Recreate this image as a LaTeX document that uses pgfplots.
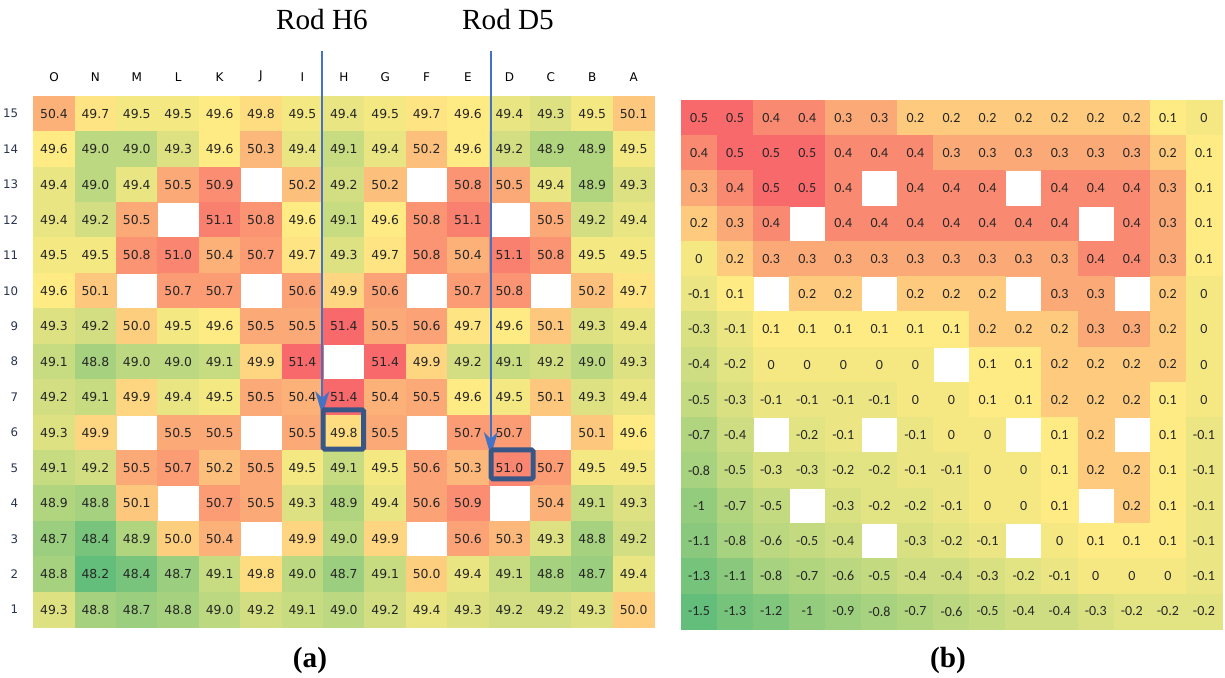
\documentclass[border=0pt]{standalone}
\usepackage{pgfplots}
\usepackage{pgfplotstable}
\pgfplotsset{compat=1.18}
\usepackage{fontspec}
\setmainfont{Liberation Serif}
\newfontfamily\cellfont{DejaVu Sans}
\newfontfamily\cellfontb{Carlito}
\usetikzlibrary{arrows.meta}

\definecolor{arrowblue}{RGB}{68,114,196}
\definecolor{boxblue}{RGB}{56,87,135}
\definecolor{rowblue}{RGB}{40,52,80}

% (a) measured values, rows 15..1, columns O..A
\pgfplotstableread{
row c0 c1 c2 c3 c4 c5 c6 c7 c8 c9 c10 c11 c12 c13 c14
15 50.4 49.7 49.5 49.5 49.6 49.8 49.5 49.4 49.5 49.7 49.6 49.4 49.3 49.5 50.1
14 49.6 49.0 49.0 49.3 49.6 50.3 49.4 49.1 49.4 50.2 49.6 49.2 48.9 48.9 49.5
13 49.4 49.0 49.4 50.5 50.9 nan 50.2 49.2 50.2 nan 50.8 50.5 49.4 48.9 49.3
12 49.4 49.2 50.5 nan 51.1 50.8 49.6 49.1 49.6 50.8 51.1 nan 50.5 49.2 49.4
11 49.5 49.5 50.8 51.0 50.4 50.7 49.7 49.3 49.7 50.8 50.4 51.1 50.8 49.5 49.5
10 49.6 50.1 nan 50.7 50.7 nan 50.6 49.9 50.6 nan 50.7 50.8 nan 50.2 49.7
9 49.3 49.2 50.0 49.5 49.6 50.5 50.5 51.4 50.5 50.6 49.7 49.6 50.1 49.3 49.4
8 49.1 48.8 49.0 49.0 49.1 49.9 51.4 nan 51.4 49.9 49.2 49.1 49.2 49.0 49.3
7 49.2 49.1 49.9 49.4 49.5 50.5 50.4 51.4 50.4 50.5 49.6 49.5 50.1 49.3 49.4
6 49.3 49.9 nan 50.5 50.5 nan 50.5 49.8 50.5 nan 50.7 50.7 nan 50.1 49.6
5 49.1 49.2 50.5 50.7 50.2 50.5 49.5 49.1 49.5 50.6 50.3 51.0 50.7 49.5 49.5
4 48.9 48.8 50.1 nan 50.7 50.5 49.3 48.9 49.4 50.6 50.9 nan 50.4 49.1 49.3
3 48.7 48.4 48.9 50.0 50.4 nan 49.9 49.0 49.9 nan 50.6 50.3 49.3 48.8 49.2
2 48.8 48.2 48.4 48.7 49.1 49.8 49.0 48.7 49.1 50.0 49.4 49.1 48.8 48.7 49.4
1 49.3 48.8 48.7 48.8 49.0 49.2 49.1 49.0 49.2 49.4 49.3 49.2 49.2 49.3 50.0
}\tabL

% (b) differences
\pgfplotstableread{
row c0 c1 c2 c3 c4 c5 c6 c7 c8 c9 c10 c11 c12 c13 c14
15 0.5 0.5 0.4 0.4 0.3 0.3 0.2 0.2 0.2 0.2 0.2 0.2 0.2 0.1 0
14 0.4 0.5 0.5 0.5 0.4 0.4 0.4 0.3 0.3 0.3 0.3 0.3 0.3 0.2 0.1
13 0.3 0.4 0.5 0.5 0.4 nan 0.4 0.4 0.4 nan 0.4 0.4 0.4 0.3 0.1
12 0.2 0.3 0.4 nan 0.4 0.4 0.4 0.4 0.4 0.4 0.4 nan 0.4 0.3 0.1
11 0 0.2 0.3 0.3 0.3 0.3 0.3 0.3 0.3 0.3 0.3 0.4 0.4 0.3 0.1
10 -0.1 0.1 nan 0.2 0.2 nan 0.2 0.2 0.2 nan 0.3 0.3 nan 0.2 0
9 -0.3 -0.1 0.1 0.1 0.1 0.1 0.1 0.1 0.2 0.2 0.2 0.3 0.3 0.2 0
8 -0.4 -0.2 0 0 0 0 0 nan 0.1 0.1 0.2 0.2 0.2 0.2 0
7 -0.5 -0.3 -0.1 -0.1 -0.1 -0.1 0 0 0.1 0.1 0.2 0.2 0.2 0.1 0
6 -0.7 -0.4 nan -0.2 -0.1 nan -0.1 0 0 nan 0.1 0.2 nan 0.1 -0.1
5 -0.8 -0.5 -0.3 -0.3 -0.2 -0.2 -0.1 -0.1 0 0 0.1 0.2 0.2 0.1 -0.1
4 -1 -0.7 -0.5 nan -0.3 -0.2 -0.2 -0.1 0 0 0.1 nan 0.2 0.1 -0.1
3 -1.1 -0.8 -0.6 -0.5 -0.4 nan -0.3 -0.2 -0.1 nan 0 0.1 0.1 0.1 -0.1
2 -1.3 -1.1 -0.8 -0.7 -0.6 -0.5 -0.4 -0.4 -0.3 -0.2 -0.1 0 0 0 -0.1
1 -1.5 -1.3 -1.2 -1 -0.9 -0.8 -0.7 -0.6 -0.5 -0.4 -0.4 -0.3 -0.2 -0.2 -0.2
}\tabR

\pgfdeclareplotmark{cellL}{\pgfpathrectangle{\pgfpoint{-10.35pt}{-8.855pt}}{\pgfpoint{20.7pt}{17.71pt}}\pgfusepathqfillstroke}
\pgfdeclareplotmark{cellR}{\pgfpathrectangle{\pgfpoint{-9.0167pt}{-8.8167pt}}{\pgfpoint{18.033pt}{17.633pt}}\pgfusepathqfillstroke}

\begin{document}
\begin{tikzpicture}
\useasboundingbox (0,0) rectangle (612.5pt,338.5pt);

\begin{axis}[
  at={(16.65pt,24.85pt)}, anchor=south west,
  x=20.7pt, y=17.71pt,
  xmin=-0.5, xmax=14.5, ymin=0.5, ymax=15.5,
  axis line style={draw=none},
  major tick length=0pt,
  xtick={0,...,14}, xticklabels={O,N,M,L,K,J,I,H,G,F,E,D,C,B,A},
  xticklabel pos=upper,
  ytick={1,...,15}, yticklabels={1,2,3,4,5,6,7,8,9,10,11,12,13,14,15},
  xticklabel style={font=\cellfont\fontsize{6}{7}\selectfont, yshift=3.5pt},
  yticklabel style={font=\cellfont\fontsize{5.9}{7}\selectfont, text=rowblue, xshift=-4pt},
  colormap={mapL}{rgb255(0pt)=(99,190,123); rgb255(14pt)=(255,235,132); rgb255(32pt)=(248,105,107)},
  point meta min=48.2, point meta max=51.4,
  clip=false,
]
\pgfplotsinvokeforeach{0,...,14}{
  \addplot[scatter, only marks, mark=cellL, point meta=explicit,
    scatter/use mapped color={draw=mapped color, fill=mapped color},
    mark options={line width=0.2pt}]
    table[x expr=#1, y expr={\thisrow{c#1}*0+\thisrow{row}}, meta=c#1] {\tabL};
}
\pgfplotsinvokeforeach{0,...,14}{
  \addplot[draw=none, mark=none, nodes near coords, nodes near coords align={center},
    point meta=explicit symbolic,
    every node near coord/.append style={font=\cellfont\fontsize{6.2}{7}\selectfont, text=black!85, inner sep=0pt}]
    table[x expr=#1, y expr={\thisrow{c#1}*0+\thisrow{row}}, meta=c#1] {\tabL};
}
\coordinate (h6top) at (axis cs:6.48,16.78);
\coordinate (h6tip) at (axis cs:6.48,6.49);
\coordinate (d5top) at (axis cs:10.55,16.78);
\coordinate (d5tip) at (axis cs:10.55,5.34);
\coordinate (h6a) at (axis cs:6.5,5.53);
\coordinate (h6b) at (axis cs:7.48,6.64);
\coordinate (d5a) at (axis cs:10.56,4.69);
\coordinate (d5b) at (axis cs:11.57,5.51);
\end{axis}

\draw[arrowblue, line width=1pt, -{Stealth[length=12pt,width=7pt,inset=3.5pt]}] (h6top) -- (h6tip);
\draw[arrowblue, line width=1pt, -{Stealth[length=12pt,width=7pt,inset=3.5pt]}] (d5top) -- (d5tip);
\draw[boxblue, line width=2.5pt, rounded corners=0.8pt] (h6a) rectangle (h6b);
\draw[boxblue, line width=2.5pt, rounded corners=0.8pt] (d5a) rectangle (d5b);

\begin{axis}[
  at={(340.5pt,24pt)}, anchor=south west,
  x=18.033pt, y=17.633pt,
  xmin=-0.5, xmax=14.5, ymin=0.5, ymax=15.5,
  hide axis,
  colormap={mapR}{rgb255(0pt)=(99,190,123); rgb255(16pt)=(255,235,132); rgb255(20pt)=(248,105,107)},
  point meta min=-1.5, point meta max=0.5,
  clip=false,
]
\pgfplotsinvokeforeach{0,...,14}{
  \addplot[scatter, only marks, mark=cellR, point meta=explicit,
    scatter/use mapped color={draw=mapped color, fill=mapped color},
    mark options={line width=0.2pt}]
    table[x expr=#1, y expr={\thisrow{c#1}*0+\thisrow{row}}, meta=c#1] {\tabR};
}
\pgfplotsinvokeforeach{0,...,14}{
  \addplot[draw=none, mark=none, nodes near coords, nodes near coords align={center},
    point meta=explicit symbolic,
    every node near coord/.append style={font=\cellfontb\fontsize{7}{8}\selectfont, text=black!85, inner sep=0pt}]
    table[x expr=#1, y expr={\thisrow{c#1}*0+\thisrow{row}}, meta=c#1] {\tabR};
}
\end{axis}

\node[anchor=base, inner sep=0pt, font=\fontsize{14.6}{16}\selectfont] at (161pt,323.85pt) {Rod H6};
\node[anchor=base, inner sep=0pt, font=\fontsize{14.6}{16}\selectfont] at (254pt,323.85pt) {Rod D5};
\node[anchor=base, inner sep=0pt, font=\bfseries\fontsize{14.6}{16}\selectfont] at (155pt,4.8pt) {(a)};
\node[anchor=base, inner sep=0pt, font=\bfseries\fontsize{14.6}{16}\selectfont] at (474pt,4.8pt) {(b)};
\end{tikzpicture}
\end{document}
